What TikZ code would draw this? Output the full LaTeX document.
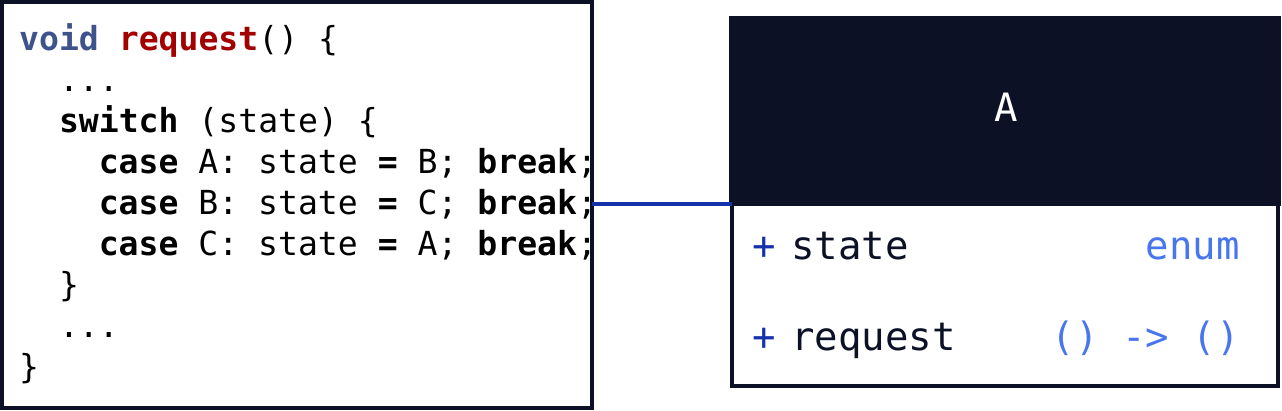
\documentclass[tikz,border=0pt]{standalone}
\usepackage{fontspec}
\setmonofont{DejaVu Sans Mono}
\definecolor{ink}{HTML}{0C1126}
\definecolor{voidc}{RGB}{62,83,140}
\definecolor{fnred}{RGB}{163,0,0}
\definecolor{linkc}{RGB}{20,50,170}
\definecolor{typec}{RGB}{72,118,236}
\tikzset{
  codeline/.style={anchor=base west, inner sep=0pt, font=\ttfamily\fontsize{33.1}{40}\selectfont},
  member/.style={anchor=base west, inner sep=0pt, text=ink, font=\ttfamily\fontsize{39}{46}\selectfont},
  mtype/.style={anchor=base east, inner sep=0pt, text=typec, font=\ttfamily\fontsize{39}{46}\selectfont},
  plus/.style={member, text=linkc},
  box/.style={draw=ink, line width=3.5pt, outer sep=0pt, anchor=north west}
}
\begin{document}
\begin{tikzpicture}[x=1pt,y=-1pt]
\useasboundingbox (0,0) rectangle (1282,410);

% code side
\node[box, minimum width=590pt, minimum height=406pt] (code) at (2,2) {};
\foreach \ind/\ln [count=\i from 0] in {
  0/{\textcolor{voidc}{\textbf{void}} \textcolor{fnred}{\textbf{request}}() \{},
  2/{...},
  2/{\textbf{switch} (state) \{},
  4/{\textbf{case} A: state \textbf{=} B; \textbf{break};},
  4/{\textbf{case} B: state \textbf{=} C; \textbf{break};},
  4/{\textbf{case} C: state \textbf{=} A; \textbf{break};},
  2/{\}},
  2/{...},
  0/{\}}}
  \node[codeline] (l\i) at ({19+19.9*\ind}, {50+41*\i}) {\ln};

% class A
\node[box, fill=ink, minimum width=548pt, minimum height=186pt] (head) at (731,18) {};
\node[anchor=base, inner sep=0pt, text=white, font=\ttfamily\fontsize{39}{46}\selectfont] (title) at (1006,121) {A};
\node[box, line width=4pt, minimum width=546pt, minimum height=182pt] (body) at (732,204) {};

\node[plus] (p1) at (752,259) {+};
\node[member] (state) at (791,259) {state};
\node[mtype] (t1) at (1240,259) {enum};
\node[plus] (p2) at (752,350) {+};
\node[member] (req) at (791,350) {request};
\node[mtype] (t2) at (1240,350) {() -> ()};

\path[draw,linkc,line width=4pt] (code.east |- body.north west) -- (body.north west);
\end{tikzpicture}
\end{document}
